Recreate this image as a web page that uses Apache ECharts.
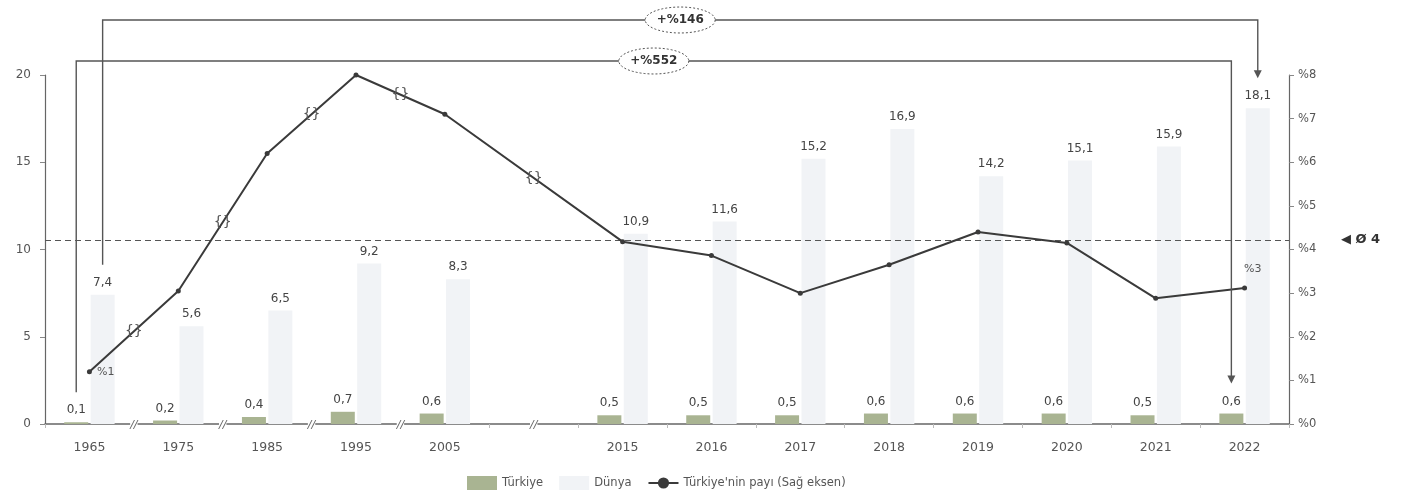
<!DOCTYPE html>
<html><head><meta charset="utf-8">
<script src="https://cdn.jsdelivr.net/npm/echarts@6/dist/echarts.min.js"></script>
<style>html,body{margin:0;padding:0;background:#fff}#c{width:1406px;height:500px}</style>
</head><body><div id="c"></div>
<script>
// ---- data ----
const categories = ['1965','1975','1985','1995','2005','','2015','2016','2017','2018','2019','2020','2021','2022'];
const turkiye = [0.1,0.2,0.4,0.7,0.6,null,0.5,0.5,0.5,0.6,0.6,0.6,0.5,0.6];
const dunya   = [7.4,5.6,6.5,9.2,8.3,null,10.9,11.6,15.2,16.9,14.2,15.1,15.9,18.1];
const share   = [1.2,3.05,6.2,8.0,7.1,null,4.18,3.86,3.0,3.65,4.4,4.15,2.88,3.12];
const shareLabels = {0:'%1', 13:'%3'};
const avgShare = 4.22;
const avgLabel = '◀ Ø 4';
const leftMin = 0, leftMax = 20, leftStep = 5;
const rightMin = 0, rightMax = 8, rightStep = 1;
const axisBreaks = [0.5,1.5,2.5,3.5,5];
const lineBreaks = [0.5,1.5,2.5,3.5,5];
const growth552 = '+%552';   // Türkiye 1965 -> 2022
const growth146 = '+%146';   // Dünya 1965 -> 2022
const seriesNames = ['Türkiye','Dünya',"Türkiye'nin payı (Sağ eksen)"];

const FONT = 'DejaVu Sans';
const fmt = v => (v == null ? '' : Number(v).toFixed(1).replace('.', ','));

const chart = echarts.init(document.getElementById('c'), null, {renderer:'canvas'});
const option = {
  animation: false,
  backgroundColor: '#fff',
  textStyle: {fontFamily: FONT},
  grid: {left: 45, right: 117, top: 75, bottom: 76},
  legend: {
    bottom: 5, left: 462, itemGap: 16, itemWidth: 30, itemHeight: 14,
    textStyle: {fontSize: 11.5, color: '#555', fontFamily: FONT},
    data: [{name: seriesNames[0], icon: 'rect'}, {name: seriesNames[1], icon: 'rect'}, seriesNames[2]]
  },
  xAxis: {
    type: 'category', data: categories,
    axisLine: {lineStyle: {color: '#666', width: 1.5}},
    axisTick: {show: true, length: 4, lineStyle: {color: '#bbb'}},
    axisLabel: {color: '#555', fontSize: 12.5, margin: 17, fontFamily: FONT}
  },
  yAxis: [
    {type: 'value', min: leftMin, max: leftMax, interval: leftStep, position: 'left',
     axisLine: {show: true, lineStyle: {color: '#666', width: 1.2}},
     axisTick: {show: true, length: 5, lineStyle: {color: '#888'}},
     splitLine: {show: false},
     axisLabel: {color: '#555', fontSize: 12, margin: 14, fontFamily: FONT}},
    {type: 'value', min: rightMin, max: rightMax, interval: rightStep, position: 'right',
     axisLine: {show: true, lineStyle: {color: '#666', width: 1.2}},
     axisTick: {show: true, length: 5, lineStyle: {color: '#888'}},
     splitLine: {show: false},
     axisLabel: {color: '#555', fontSize: 11.5, margin: 9, fontFamily: FONT, formatter: v => '%' + v}}
  ],
  series: [
    {name: seriesNames[0], type: 'bar', data: turkiye, barWidth: 24, barGap: '10%',
     itemStyle: {color: '#a9b492'},
     label: {show: true, position: 'top', distance: 6, color: '#444', fontSize: 12, fontFamily: FONT,
             formatter: p => fmt(p.value)}},
    {name: seriesNames[1], type: 'bar', data: dunya, barWidth: 24,
     itemStyle: {color: '#f1f3f6'},
     label: {show: true, position: 'top', distance: 6, color: '#444', fontSize: 12, fontFamily: FONT,
             formatter: p => fmt(p.value)}},
    {name: seriesNames[2], type: 'line', yAxisIndex: 1, z: 5,
     data: share.map((v, i) => shareLabels[i] ? {value: v, label: {show: true, formatter: shareLabels[i],
            position: i === 0 ? 'right' : [2, -22]}} : v),
     connectNulls: true, symbol: 'circle', symbolSize: 5,
     lineStyle: {color: '#3a3a3a', width: 2}, itemStyle: {color: '#3a3a3a'},
     label: {show: false, color: '#555', fontSize: 11, fontFamily: FONT},
     markLine: {
       symbol: 'none', silent: true,
       data: [{yAxis: avgShare}],
       lineStyle: {type: [6, 4], color: '#555', width: 1.2},
       label: {position: 'end', formatter: avgLabel, distance: 52, fontWeight: 'bold', fontSize: 13, color: '#333', fontFamily: FONT}
     }}
  ]
};
chart.setOption(option);

// ---- decorations computed from the library's layout ----
function barInfo(si, i) {
  const d = chart.getModel().getSeriesByIndex(si).getData();
  const l = d.getItemLayout(i);
  return {cx: l.x + l.width / 2, top: Math.min(l.y, l.y + l.height)};
}
function catX(p) {
  const f = Math.floor(p), c = Math.ceil(p);
  const xf = chart.convertToPixel({xAxisIndex: 0}, f);
  const xc = chart.convertToPixel({xAxisIndex: 0}, c);
  return xf + (xc - xf) * (p - f);
}
function linePt(i) { return chart.convertToPixel({seriesIndex: 2}, [i, share[i]]); }

const g = [];
const axisY = chart.convertToPixel({yAxisIndex: 0}, 0);
axisBreaks.forEach(p => {
  g.push({type: 'text', z: 100, x: catX(p), y: axisY + 1,
    style: {text: '//', font: 'italic 11px ' + FONT, fill: '#666', backgroundColor: '#fff',
            align: 'center', verticalAlign: 'middle', textAlign: 'center', textVerticalAlign: 'middle'}});
});
lineBreaks.forEach(p => {
  let lo = Math.floor(p); while (share[lo] == null) lo--;
  let hi = Math.ceil(p); if (hi === lo) hi++; while (share[hi] == null) hi++;
  const a = linePt(lo), b = linePt(hi);
  const x = catX(p);
  const y = a[1] + (b[1] - a[1]) * (x - a[0]) / (b[0] - a[0]);
  g.push({type: 'text', z: 100, x: x, y: y,
    style: {text: '{}', font: '14px ' + FONT, fill: '#555',
            align: 'center', verticalAlign: 'middle', textAlign: 'center', textVerticalAlign: 'middle'}});
});

const gridTop = 75;
function bracket(si, yLine, label) {
  const a = barInfo(si, 0), b = barInfo(si, categories.length - 1);
  const yA = a.top - 30, yB = b.top - 30;
  g.push({type: 'polyline', z: 100, shape: {points: [[a.cx, yA], [a.cx, yLine], [b.cx, yLine], [b.cx, yB - 6]]},
          style: {stroke: '#555', lineWidth: 1.4, fill: null}});
  g.push({type: 'polygon', z: 100, shape: {points: [[b.cx - 4, yB - 8], [b.cx + 4, yB - 8], [b.cx, yB]]},
          style: {fill: '#555'}});
  const cx = (a.cx + b.cx) / 2, rx = 35, ry = 13, pts = [];
  for (let k = 0; k < 48; k++) { const t = k / 48 * Math.PI * 2; pts.push([cx + rx * Math.cos(t), yLine + ry * Math.sin(t)]); }
  g.push({type: 'polygon', z: 101, shape: {points: pts}, style: {fill: '#fff', stroke: '#555', lineWidth: 1, lineDash: [2, 2]}});
  g.push({type: 'text', z: 102, x: cx, y: yLine,
    style: {text: label, font: 'bold 12px ' + FONT, fill: '#333',
            align: 'center', verticalAlign: 'middle', textAlign: 'center', textVerticalAlign: 'middle'}});
}
bracket(0, gridTop - 14, growth552);
bracket(1, gridTop - 55, growth146);

chart.setOption({graphic: g});
</script>
</body></html>
